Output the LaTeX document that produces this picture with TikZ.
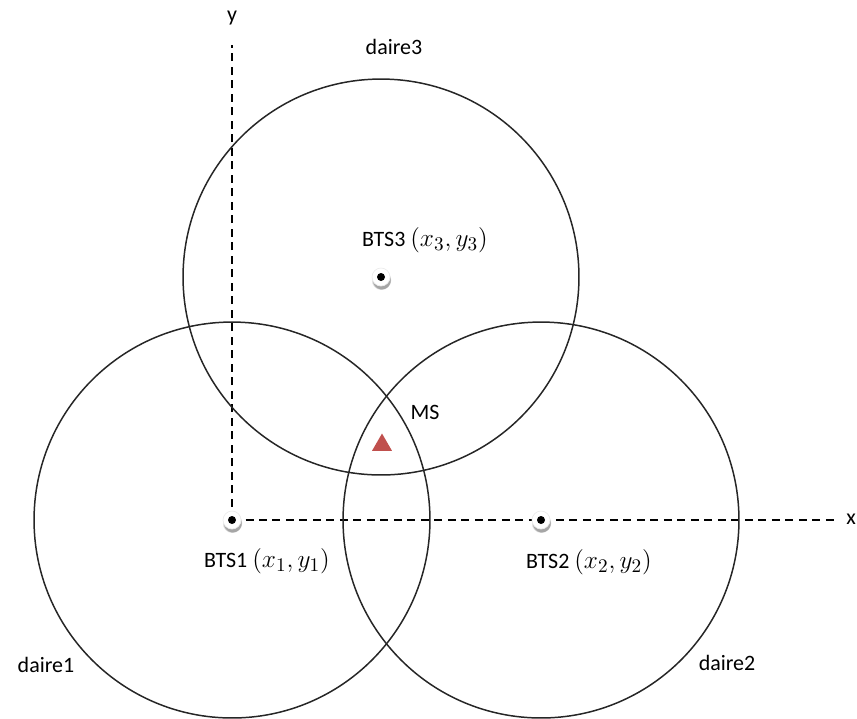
\documentclass[tikz,border=0pt]{standalone}
\usepackage{amsmath}
\usepackage{fontspec}
\setmainfont{Carlito}
\usepackage{xcolor}
\usetikzlibrary{calc,shapes,shadows,positioning}
\definecolor{msred}{RGB}{192,80,77}
\newcommand{\btspos}[1]{{\fontsize{15}{17}\selectfont$(x_{#1}, y_{#1})$}}
\tikzset{
    axis/.style={line width=1.1pt, dash pattern=on 0.16cm off 0.11cm},
    daire/.style={line width=0.85pt, black!85},
    bts/.style={circle, fill=white, draw=gray!15, minimum size=0.36cm, inner sep=0pt,
        circular drop shadow={shadow xshift=0.2pt, shadow yshift=-1.6pt, fill=gray!70},
        path picture={\fill[black] (path picture bounding box.center) circle (0.08cm);}},
    lbl/.style={font=\fontsize{12.5}{15}\selectfont, inner sep=1pt}
}

\begin{document}
\begin{tikzpicture}[x=0.02cm, y=-0.02cm,
    ms/.style={regular polygon, regular polygon sides=3, fill=msred, minimum size=0.46cm, inner sep=0pt}
]
\useasboundingbox (0,0) rectangle (857,718);

% Positions
\coordinate (o1) at (232,520);
\coordinate (o2) at (541,520);
\coordinate (o3) at (381,277);
\coordinate (ytop) at (232,45);
\coordinate (xend) at (835,520);

% Axes
\draw[axis] (o1) -- (ytop);
\draw[axis] (o1) -- (xend);
\node[lbl] (ylbl) at (232,18) {y};
\node[lbl] (xlbl) at (851,519) {x};

% Circles
\draw[daire] (o1) circle[radius=3.96cm];
\draw[daire] (o2) circle[radius=3.96cm];
\draw[daire] (o3) circle[radius=3.96cm];

% Stations
\node[bts] (bts1) at (o1) {};
\node[bts] (bts2) at (o2) {};
\node[bts] (bts3) at (o3) {};
\node[lbl] (lbl1) at (267,561) {BTS1 \btspos{1}};
\node[lbl] (lbl2) at (589,562) {BTS2 \btspos{2}};
\node[lbl] (lbl3) at (425,240) {BTS3 \btspos{3}};

% Circle names
\node[lbl] (d1) at (46,665) {daire1};
\node[lbl] (d2) at (727,663) {daire2};
\node[lbl] (d3) at (394,47) {daire3};

% Mobile
\node[ms] (mobile) at (382,445) {};
\node[lbl] (mslbl) at (425,412) {MS};

\end{tikzpicture}
\end{document}
